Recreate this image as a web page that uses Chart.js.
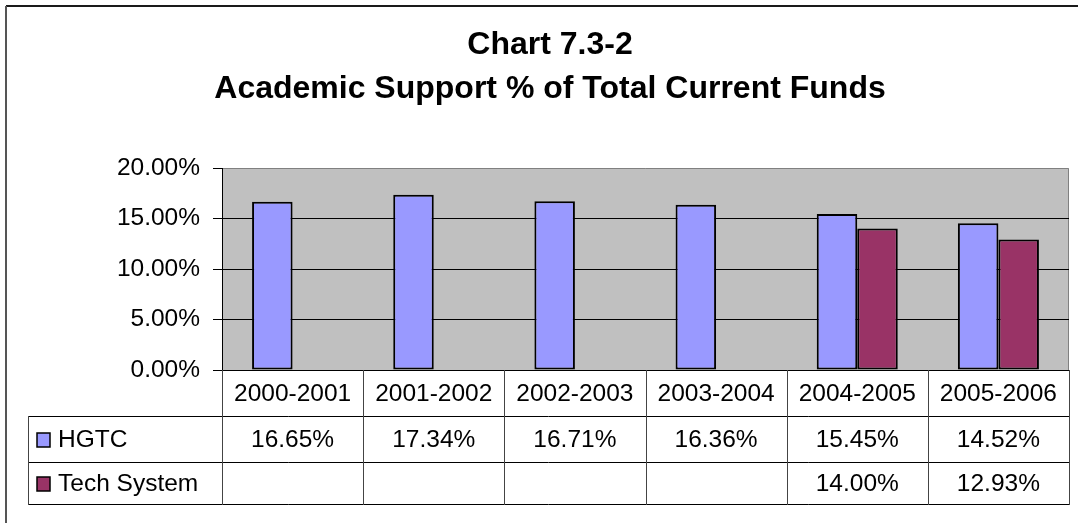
<!DOCTYPE html>
<html>
<head>
<meta charset="utf-8">
<script src="https://cdn.jsdelivr.net/npm/chart.js@4.4.1/dist/chart.umd.min.js"></script>
<style>
  html, body { margin: 0; padding: 0; background: #ffffff; }
  canvas { display: block; }
</style>
</head>
<body>
<canvas id="c" width="1078" height="523"></canvas>
<script>
const titleLines = ['Chart 7.3-2', 'Academic Support % of Total Current Funds'];
const categories = ['2000-2001', '2001-2002', '2002-2003', '2003-2004', '2004-2005', '2005-2006'];
const seriesNames = ['HGTC', 'Tech System'];
const hgtc = [16.65, 17.34, 16.71, 16.36, 15.45, 14.52];
const techSystem = [null, null, null, null, 14.00, 12.93];
const yMin = 0, yMax = 20, yStep = 5;

const FONT = "'Liberation Sans', Arial, sans-serif";
const LEFT_PAD = 31;

function fmt(v) { return v.toFixed(2) + '%'; }

const framePlugin = {
  id: 'frame',
  beforeDraw(chart) {
    const ctx = chart.ctx;
    const a = chart.chartArea;
    ctx.save();
    ctx.fillStyle = '#ffffff';
    ctx.fillRect(0, 0, chart.width, chart.height);
    ctx.strokeStyle = '#1a1a1a';
    ctx.lineWidth = 2;
    ctx.beginPath();
    ctx.moveTo(6, 6); ctx.lineTo(chart.width, 6);
    ctx.stroke();
    ctx.strokeStyle = '#555555';
    ctx.beginPath();
    ctx.moveTo(6, 6); ctx.lineTo(6, chart.height);
    ctx.stroke();
    ctx.fillStyle = '#c0c0c0';
    ctx.fillRect(a.left, a.top, a.right - a.left, a.bottom - a.top);
    ctx.strokeStyle = '#808080';
    ctx.lineWidth = 1;
    ctx.beginPath();
    ctx.moveTo(a.left, a.top + 0.5); ctx.lineTo(a.right - 0.5, a.top + 0.5);
    ctx.lineTo(a.right - 0.5, a.bottom);
    ctx.stroke();
    ctx.restore();
  }
};

const tablePlugin = {
  id: 'dataTable',
  afterDraw(chart) {
    const ctx = chart.ctx;
    const a = chart.chartArea;
    const xs = chart.scales.x;
    const n = categories.length;
    const colW = (a.right - a.left) / n;
    const rowTop = a.bottom;
    const rows = [rowTop, rowTop + 46, rowTop + 92, rowTop + 134];
    const legendLeft = 28;
    ctx.save();
    ctx.strokeStyle = '#000000';
    ctx.lineWidth = 1;
    for (let r = 1; r < rows.length; r++) {
      ctx.beginPath();
      ctx.moveTo(legendLeft, rows[r] + 0.5);
      ctx.lineTo(a.right, rows[r] + 0.5);
      ctx.stroke();
    }
    ctx.strokeStyle = '#444444';
    for (let i = 0; i <= n; i++) {
      const x = Math.round(a.left + i * colW) + 0.5;
      ctx.beginPath();
      ctx.moveTo(x, rowTop);
      ctx.lineTo(x, rows[3] + 1);
      ctx.stroke();
    }
    ctx.beginPath();
    ctx.moveTo(legendLeft + 0.5, rows[1]);
    ctx.lineTo(legendLeft + 0.5, rows[3] + 1);
    ctx.stroke();

    ctx.fillStyle = '#000000';
    ctx.font = '24.5px ' + FONT;
    ctx.textAlign = 'center';
    ctx.textBaseline = 'middle';
    categories.forEach((c, i) => {
      const cx = xs.getPixelForValue(i);
      ctx.fillText(c, cx, (rows[0] + rows[1]) / 2 + 1);
    });
    const series = [hgtc, techSystem];
    series.forEach((s, si) => {
      const cy = (rows[si + 1] + rows[si + 2]) / 2 + 1;
      s.forEach((v, i) => {
        if (v === null || v === undefined) return;
        ctx.fillText(fmt(v), xs.getPixelForValue(i), cy);
      });
      const ds = chart.data.datasets[si];
      ctx.fillStyle = ds.backgroundColor;
      ctx.fillRect(37, cy - 7, 13, 14);
      ctx.strokeStyle = '#000000';
      ctx.lineWidth = 1.5;
      ctx.strokeRect(37, cy - 7, 13, 14);
      ctx.fillStyle = '#000000';
      ctx.textAlign = 'left';
      ctx.fillText(seriesNames[si], 58, cy);
      ctx.textAlign = 'center';
    });
    ctx.restore();
  }
};

new Chart(document.getElementById('c'), {
  type: 'bar',
  data: {
    labels: categories,
    datasets: [
      {
        label: seriesNames[0],
        data: hgtc,
        backgroundColor: '#9999ff',
        borderColor: '#000000',
        borderWidth: 2,
        borderSkipped: false,
        categoryPercentage: 0.574,
        barPercentage: 1.0
      },
      {
        label: seriesNames[1],
        data: techSystem,
        backgroundColor: '#993366',
        borderColor: '#000000',
        borderWidth: 2,
        borderSkipped: false,
        categoryPercentage: 0.574,
        barPercentage: 1.0
      }
    ]
  },
  options: {
    responsive: false,
    animation: false,
    devicePixelRatio: 1,
    layout: { padding: { top: 0, right: 9, bottom: 0, left: LEFT_PAD } },
    plugins: {
      legend: { display: false },
      tooltip: { enabled: false },
      title: {
        display: true,
        text: titleLines,
        color: '#000000',
        font: { family: FONT, size: 32, weight: 'bold', lineHeight: 1.375 },
        padding: { top: 23, bottom: 57 }
      }
    },
    scales: {
      x: {
        grid: { display: false },
        border: { display: true, color: '#000000', width: 1 },
        ticks: { display: false },
        afterFit(scale) { scale.height = 523 - 370; }
      },
      y: {
        min: yMin,
        max: yMax,
        ticks: {
          stepSize: yStep,
          color: '#000000',
          padding: 13,
          font: { family: FONT, size: 24.5 },
          callback: (v) => fmt(v)
        },
        grid: {
          color: (ctx) => (ctx.tick && ctx.tick.value === yMax) ? 'rgba(0,0,0,0)' : '#000000',
          tickColor: '#000000',
          tickLength: 9,
          lineWidth: 1
        },
        border: { display: true, color: '#000000', width: 1 },
        afterFit(scale) { scale.width = 222 - LEFT_PAD; }
      }
    }
  },
  plugins: [framePlugin, tablePlugin]
});
</script>
</body>
</html>
